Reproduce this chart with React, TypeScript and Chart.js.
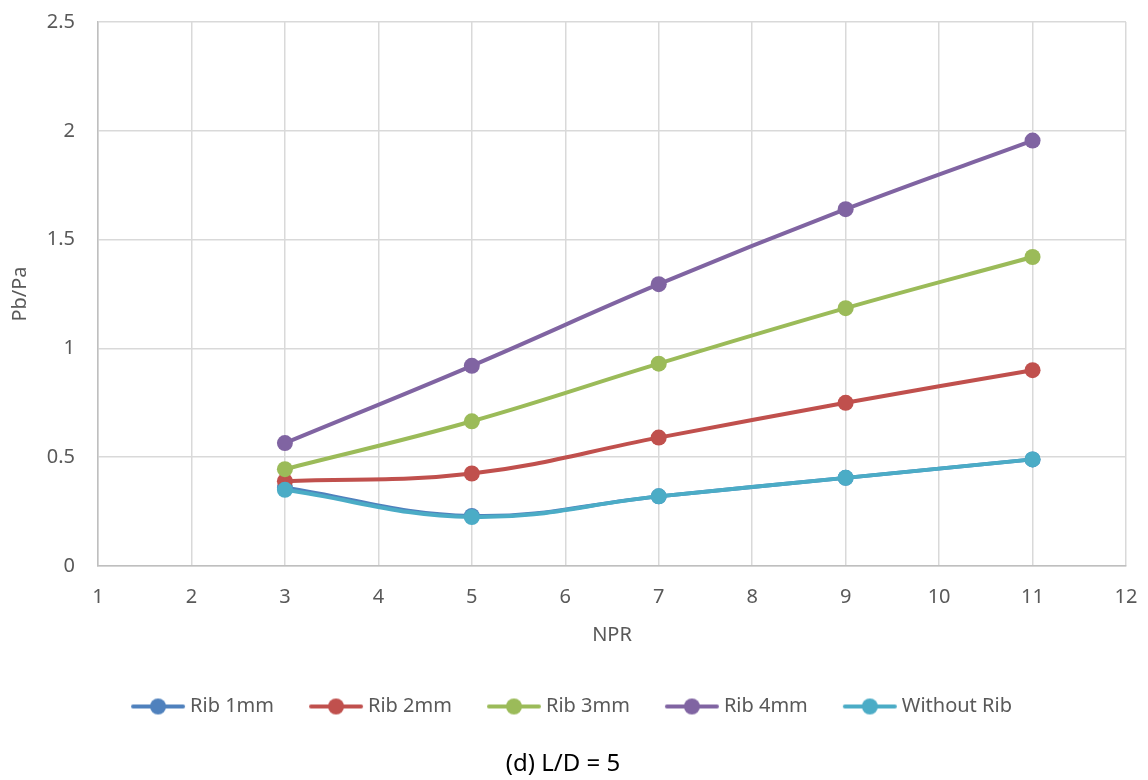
import React, { useEffect, useRef } from 'react';
import { Chart, registerables } from 'chart.js';
Chart.register(...registerables);

const npr = [3, 5, 7, 9, 11];
const rib1mm = [0.36, 0.23, 0.32, 0.405, 0.49];
const rib2mm = [0.39, 0.425, 0.59, 0.75, 0.9];
const rib3mm = [0.445, 0.665, 0.93, 1.185, 1.42];
const rib4mm = [0.565, 0.92, 1.295, 1.64, 1.955];
const withoutRib = [0.35, 0.225, 0.32, 0.405, 0.49];

const seriesNames = ['Rib 1mm', 'Rib 2mm', 'Rib 3mm', 'Rib 4mm', 'Without Rib'];
const seriesValues = [rib1mm, rib2mm, rib3mm, rib4mm, withoutRib];
const seriesColors = ['#4f81bd', '#c0504d', '#9bbb59', '#8064a2', '#4bacc6'];

const xTitle = 'NPR';
const yTitle = 'Pb/Pa';
const chartTitle = '(d) L/D = 5';

const FONT = "'Noto Sans', 'Open Sans', sans-serif";

function makeIcon(color: string): HTMLCanvasElement {
  const c = document.createElement('canvas');
  c.width = 84;
  c.height = 18;
  const ctx = c.getContext('2d')!;
  const a = 26;
  ctx.strokeStyle = color;
  ctx.lineWidth = 4;
  ctx.lineCap = 'round';
  ctx.beginPath();
  ctx.moveTo(a + 2, 9);
  ctx.lineTo(a + 52, 9);
  ctx.stroke();
  ctx.fillStyle = color;
  ctx.beginPath();
  ctx.arc(a + 27, 9, 8, 0, Math.PI * 2);
  ctx.fill();
  return c;
}

export default function App() {
  const ref = useRef<HTMLCanvasElement>(null);
  useEffect(() => {
    if (!ref.current) return;
    const icons = seriesColors.map(makeIcon);
    const chart = new Chart(ref.current, {
      type: 'scatter',
      data: {
        datasets: seriesNames.map((name, i) => ({
          label: name,
          data: npr.map((x, j) => ({ x, y: seriesValues[i][j] })),
          showLine: true,
          borderColor: seriesColors[i],
          backgroundColor: seriesColors[i],
          borderWidth: 4,
          pointRadius: 8,
          pointHoverRadius: 8,
          pointBorderWidth: 0,
          tension: 0.4,
          order: seriesNames.length - i,
        })),
      },
      options: {
        animation: false,
        responsive: false,
        maintainAspectRatio: false,
        layout: { padding: { left: 0, right: 22, top: 22, bottom: 0 } },
        scales: {
          x: {
            type: 'linear',
            min: 1,
            max: 12,
            ticks: { stepSize: 1, color: '#595959', font: { family: FONT, size: 20 }, padding: 3 },
            grid: { color: '#d9d9d9', lineWidth: 1.5, drawTicks: true, tickLength: 16, tickColor: 'rgba(0,0,0,0)' },
            border: { color: '#bfbfbf', width: 1.5 },
            title: { display: true, text: xTitle, color: '#595959', font: { family: FONT, size: 20 }, padding: { top: 0, bottom: 31.5 } },
            afterFit: (s: any) => { s.height = 112.5; },
          },
          y: {
            min: 0,
            max: 2.5,
            ticks: {
              stepSize: 0.5,
              color: '#595959',
              font: { family: FONT, size: 20 },
              padding: 3,
              callback: (v: any) => String(v),
            },
            grid: { color: '#d9d9d9', lineWidth: 1.5, drawTicks: true, tickLength: 20, tickColor: 'rgba(0,0,0,0)' },
            border: { color: '#bfbfbf', width: 1.5 },
            title: { display: true, text: yTitle, color: '#595959', font: { family: FONT, size: 20 }, padding: { top: 8, bottom: 0 } },
            afterFit: (s: any) => { s.width = 98; },
          },
        },
        plugins: {
          legend: {
            position: 'bottom',
            labels: {
              color: '#595959',
              font: { family: FONT, size: 20 },
              usePointStyle: true,
              pointStyleWidth: 66,
              padding: 18,
              generateLabels: (ch: any) =>
                ch.data.datasets.map((ds: any, i: number) => ({
                  text: ds.label,
                  fillStyle: ds.borderColor,
                  strokeStyle: ds.borderColor,
                  fontColor: '#595959',
                  lineWidth: 0,
                  pointStyle: icons[i],
                  hidden: false,
                  datasetIndex: i,
                })),
            },
          },
          title: {
            display: true,
            position: 'bottom',
            text: chartTitle,
            color: '#000000',
            font: { family: FONT, size: 24, weight: 'normal' },
            padding: { top: 23.7, bottom: 1 },
          },
          tooltip: { enabled: false },
        },
      },
    });
    return () => chart.destroy();
  }, []);
  return (
    <div style={{ position: 'fixed', left: 0, top: 0, width: 1148, height: 780, background: '#fff' }}>
      <canvas ref={ref} width={1148} height={780} style={{ width: 1148, height: 780, display: 'block' }} />
    </div>
  );
}
